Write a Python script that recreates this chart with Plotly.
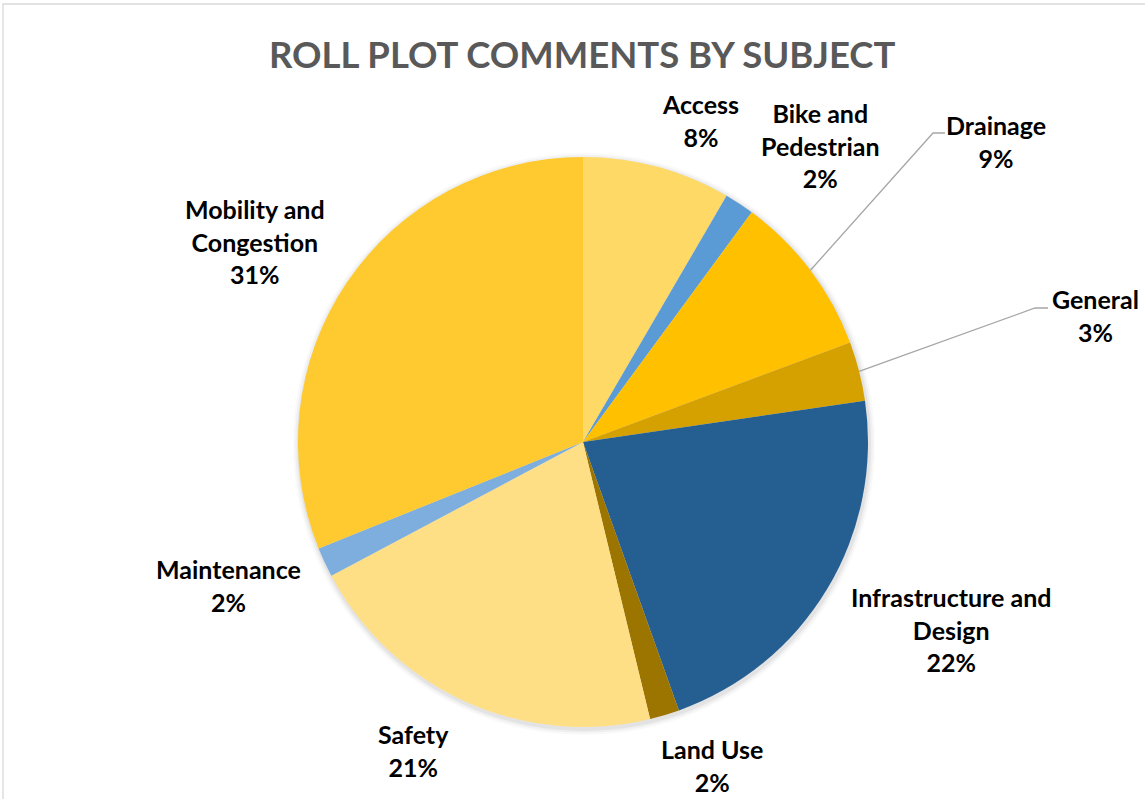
import math
import plotly.graph_objects as go

# Comment counts by subject (clockwise from 12 o'clock)
subjects = ["Access", "Bike and Pedestrian", "Drainage", "General",
            "Infrastructure and Design", "Land Use", "Safety",
            "Maintenance", "Mobility and Congestion"]
counts = [10, 2, 11, 4, 26, 2, 25, 2, 37]

# Label text broken into lines as drawn
label_lines = ["Access", "Bike and<br>Pedestrian", "Drainage", "General",
               "Infrastructure and<br>Design", "Land Use", "Safety",
               "Maintenance", "Mobility and<br>Congestion"]

colors = ["#FFD966", "#5B9BD5", "#FFC000", "#D4A100", "#255E91",
          "#9C7400", "#FFDF86", "#7DAEDE", "#FFCA2F"]

W, H = 1145, 799
CX, CY, R = 583, 442, 285

# label block centres in pixels
label_pos = [(700, 120), (820, 145), (996, 141), (1095, 316),
             (951, 629), (712, 765), (413, 750), (228, 585), (255, 241)]

# elbow and end points of leader lines (pixels) for labels placed far from their slice
leaders = {2: [(933, 133), (945, 133)], 3: [(1035, 308), (1048, 308)]}


def px(x, y):
    return x / W, 1 - y / H


total = sum(counts)
pcts = [round(c / total * 100) for c in counts]

fig = go.Figure()
fig.add_trace(go.Pie(
    labels=subjects, values=counts, sort=False, direction="clockwise",
    rotation=0, marker=dict(colors=colors, line=dict(width=0)),
    textinfo="none", hoverinfo="label+percent", showlegend=False,
    domain=dict(x=[(CX - R) / W, (CX + R) / W], y=[1 - (CY + R) / H, 1 - (CY - R) / H]),
))

annotations = []
for i, (txt, p) in enumerate(zip(label_lines, pcts)):
    x, y = px(*label_pos[i])
    annotations.append(dict(
        x=x, y=y, xref="paper", yref="paper", xanchor="center", yanchor="middle",
        text=f"{txt}<br>{p}%", showarrow=False, align="center",
        font=dict(family="Lato", size=25, color="#000000", weight=700),
    ))

annotations.append(dict(
    x=582 / W, y=1 - 54 / H, xref="paper", yref="paper", xanchor="center", yanchor="middle",
    text="ROLL PLOT COMMENTS BY SUBJECT", showarrow=False,
    font=dict(family="Lato", size=36.5, color="#595959", weight=700),
))

shapes = []
# soft shadow rim around the pie
for k, a in [(6, 0.025), (4, 0.035), (2, 0.05)]:
    x0, y0 = px(CX - R - k + 1, CY - R - k + 2)
    x1, y1 = px(CX + R + k + 1, CY + R + k + 2)
    shapes.append(dict(type="circle", xref="paper", yref="paper", layer="below",
                       x0=x0, x1=x1, y0=y1, y1=y0, line=dict(width=0),
                       fillcolor=f"rgba(0,0,0,{a})"))

# leader lines from slice edge to label
cum = 0
for i, c in enumerate(counts):
    mid = (cum + c / 2) / total * 2 * math.pi
    cum += c
    if i in leaders:
        sx = CX + R * math.sin(mid)
        sy = CY - R * math.cos(mid)
        pts = [(sx, sy)] + leaders[i]
        path = "M " + " L ".join(f"{px(a, b)[0]},{px(a, b)[1]}" for a, b in pts)
        shapes.append(dict(type="path", xref="paper", yref="paper", path=path,
                           line=dict(color="#A6A6A6", width=1.3)))

# chart area border
bx0, by0 = px(3, 4)
bx1, by1 = px(W + 10, H + 10)
shapes.append(dict(type="rect", xref="paper", yref="paper", x0=bx0, y0=by1, x1=bx1, y1=by0,
                   line=dict(color="#D9D9D9", width=1.3), fillcolor="rgba(0,0,0,0)"))

fig.update_layout(
    width=W, height=H, margin=dict(l=0, r=0, t=0, b=0),
    paper_bgcolor="white", plot_bgcolor="white",
    annotations=annotations, shapes=shapes,
)

fig.write_html("out.html")
